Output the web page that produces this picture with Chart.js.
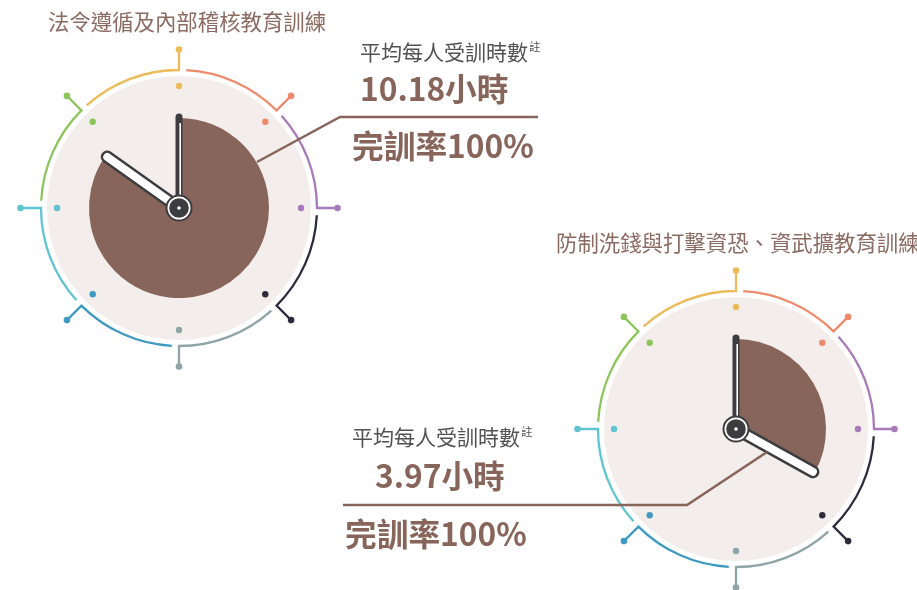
<!DOCTYPE html>
<html>
<head>
<meta charset="utf-8">
<script src="https://cdn.jsdelivr.net/npm/chart.js@4/dist/chart.umd.min.js"></script>
<style>
  html, body { margin:0; padding:0; background:#fff; width:917px; height:590px; overflow:hidden; }
  body { position:relative; font-family:"Noto Sans CJK TC","Noto Sans",sans-serif; }
  canvas.clock { position:absolute; }
  .t { position:absolute; white-space:nowrap; line-height:1; }
  .title { font-size:21.4px; color:#8b6b61; font-weight:400; }
  .label { font-size:21px; color:#525252; font-weight:400; }
  .label sup { font-size:11.5px; vertical-align:0; position:relative; top:-9px; margin-left:1px; }
  .big { font-size:31.7px; color:#87655a; font-weight:700; }
  svg { position:absolute; left:0; top:0; }
</style>
</head>
<body>
<canvas id="c1" class="clock" width="340" height="340" style="left:9px;top:38px;width:340px;height:340px"></canvas>
<canvas id="c2" class="clock" width="340" height="340" style="left:566px;top:259px;width:340px;height:340px"></canvas>

<svg width="917" height="590">
  <polyline points="538,117 340,117 257,162" fill="none" stroke="#87655a" stroke-width="2.5"/>
  <polyline points="343,505 687,505 767,452" fill="none" stroke="#87655a" stroke-width="2.5"/>
</svg>

<div id="title1" class="t title" style="left:48px;top:10px"></div>
<div id="label1" class="t label" style="left:360px;top:41px"></div>
<div id="hours1" class="t big" style="left:360px;top:72px"></div>
<div id="rate1" class="t big" style="left:352px;top:129px"></div>

<div id="title2" class="t title" style="left:556px;top:231px"></div>
<div id="label2" class="t label" style="left:352px;top:426px"></div>
<div id="hours2" class="t big" style="left:375px;top:459px"></div>
<div id="rate2" class="t big" style="left:345px;top:517px"></div>

<script>
// ---- data ----
const categories = ['法令遵循及內部稽核教育訓練', '防制洗錢與打擊資恐、資武擴教育訓練'];
const avgHours = [10.18, 3.97];
const completionRate = [100, 100];
const clockHours = 12;
const labelText = '平均每人受訓時數';
const noteMark = '註';
const hourUnit = '小時';
const rateText = '完訓率';

// ---- styles ----
const PIE_COLOR = '#87655a';
const DISC_COLOR = '#f3eeeb';
const RING_COLORS = ['#ecbb5a','#ee8a6b','#a97ab8','#2c2a3b','#8ea4a7','#3e9ac1','#5fc5d1','#8cc55b'];
const HAND_COLOR = '#3d3d3f';

const clockPlugin = {
  id: 'clockDecor',
  beforeDatasetsDraw(chart) {
    const arc = chart.getDatasetMeta(0).data[0];
    const x = arc.x, y = arc.y;
    const ctx = chart.ctx;
    ctx.save();
    ctx.fillStyle = DISC_COLOR;
    ctx.beginPath(); ctx.arc(x, y, 132, 0, Math.PI * 2); ctx.fill();
    const R = 138, RS = 158.5, RD = 122;
    RING_COLORS.forEach((c, k) => {
      const th = -Math.PI / 2 + k * Math.PI / 4;
      const cos = Math.cos(th), sin = Math.sin(th);
      ctx.strokeStyle = c; ctx.fillStyle = c;
      ctx.lineWidth = 2.3; ctx.lineJoin = 'miter'; ctx.lineCap = 'butt';
      ctx.beginPath();
      ctx.arc(x, y, R, th - 42 * Math.PI / 180, th);
      ctx.lineTo(x + RS * cos, y + RS * sin);
      ctx.stroke();
      ctx.beginPath(); ctx.arc(x + RS * cos, y + RS * sin, 3.3, 0, Math.PI * 2); ctx.fill();
      ctx.beginPath(); ctx.arc(x + RD * cos, y + RD * sin, 3.2, 0, Math.PI * 2); ctx.fill();
    });
    ctx.restore();
  },
  afterDatasetsDraw(chart) {
    const arc = chart.getDatasetMeta(0).data[0];
    const x = arc.x, y = arc.y;
    const ctx = chart.ctx;
    ctx.save();
    ctx.lineCap = 'round';
    // minute hand (at pie start)
    const ma = arc.startAngle, ml = 91;
    ctx.strokeStyle = HAND_COLOR; ctx.lineWidth = 7;
    ctx.beginPath(); ctx.moveTo(x, y); ctx.lineTo(x + ml * Math.cos(ma), y + ml * Math.sin(ma)); ctx.stroke();
    ctx.strokeStyle = '#ffffff'; ctx.lineWidth = 1.6;
    const ox = Math.sin(ma) * 1.2, oy = Math.cos(ma) * 1.2;
    ctx.lineCap = 'butt';
    ctx.beginPath(); ctx.moveTo(x - ox, y + oy); ctx.lineTo(x - ox + (ml - 6) * Math.cos(ma), y + oy + (ml - 6) * Math.sin(ma)); ctx.stroke();
    // hour hand (at pie end)
    ctx.lineCap = 'round';
    const ha = arc.endAngle, hl = 88;
    ctx.strokeStyle = HAND_COLOR; ctx.lineWidth = 13;
    ctx.beginPath(); ctx.moveTo(x, y); ctx.lineTo(x + hl * Math.cos(ha), y + hl * Math.sin(ha)); ctx.stroke();
    ctx.strokeStyle = '#ffffff'; ctx.lineWidth = 8;
    ctx.beginPath(); ctx.moveTo(x, y); ctx.lineTo(x + hl * Math.cos(ha), y + hl * Math.sin(ha)); ctx.stroke();
    // hub
    ctx.fillStyle = HAND_COLOR; ctx.beginPath(); ctx.arc(x, y, 13.5, 0, Math.PI * 2); ctx.fill();
    ctx.fillStyle = '#ffffff'; ctx.beginPath(); ctx.arc(x, y, 11.5, 0, Math.PI * 2); ctx.fill();
    ctx.fillStyle = HAND_COLOR; ctx.beginPath(); ctx.arc(x, y, 9.8, 0, Math.PI * 2); ctx.fill();
    ctx.fillStyle = '#ffffff'; ctx.beginPath(); ctx.arc(x, y, 1.8, 0, Math.PI * 2); ctx.fill();
    ctx.restore();
  }
};

function makeClock(id, hours) {
  new Chart(document.getElementById(id), {
    type: 'pie',
    data: {
      labels: ['hours', 'rest'],
      datasets: [{
        data: [hours, clockHours - hours],
        backgroundColor: [PIE_COLOR, 'rgba(0,0,0,0)'],
        borderWidth: 0,
        radius: 90
      }]
    },
    options: {
      responsive: false,
      maintainAspectRatio: false,
      animation: false,
      events: [],
      layout: { padding: 0 },
      plugins: { legend: { display: false }, tooltip: { enabled: false } }
    },
    plugins: [clockPlugin]
  });
}

makeClock('c1', avgHours[0]);
makeClock('c2', avgHours[1]);

[0, 1].forEach(i => {
  const n = i + 1;
  document.getElementById('title' + n).textContent = categories[i];
  document.getElementById('label' + n).innerHTML = labelText + '<sup>' + noteMark + '</sup>';
  document.getElementById('hours' + n).textContent = avgHours[i].toFixed(2) + hourUnit;
  document.getElementById('rate' + n).textContent = rateText + completionRate[i] + '%';
});
</script>
</body>
</html>
